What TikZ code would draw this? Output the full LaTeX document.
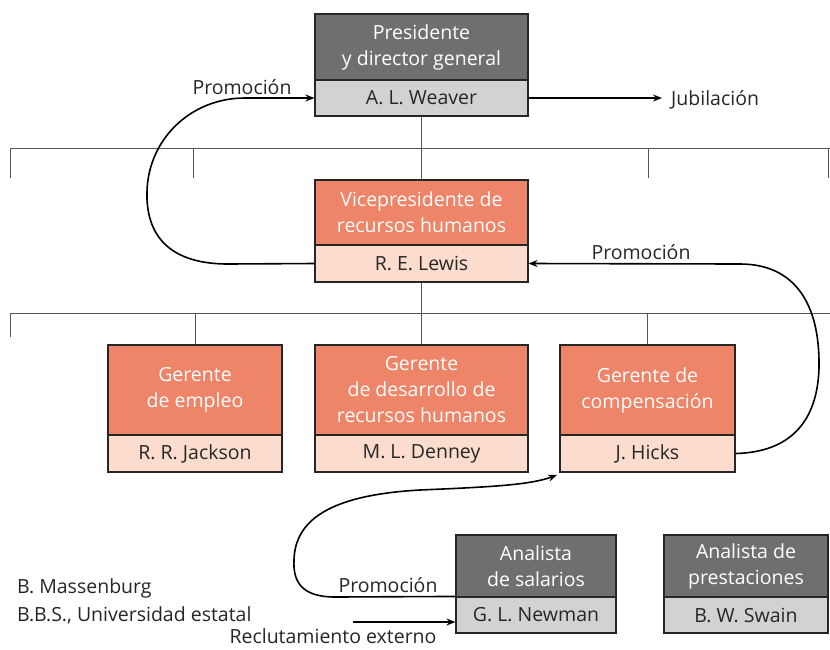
\documentclass[tikz,border=0pt]{standalone}
\usepackage{fontspec}
\setmainfont{Open Sans}
\usetikzlibrary{arrows.meta}
\definecolor{darkbox}{HTML}{6F6F6F}
\definecolor{lightbox}{HTML}{D2D2D2}
\definecolor{salmon}{HTML}{EE8468}
\definecolor{palesalmon}{HTML}{FCDDCD}
\definecolor{orgline}{HTML}{555555}
\begin{document}
\begin{tikzpicture}[x=1pt,y=-1pt,
  every node/.style={font=\fontsize{19.5}{26}\selectfont},
  part/.style={draw=black!85, line width=1.1pt, align=center, inner sep=0pt, minimum width=#1},
  titledark/.style={part=#1, fill=darkbox, text=white},
  titlesal/.style={part=#1, fill=salmon, text=white},
  namegray/.style={part=#1, fill=lightbox, text=black!85},
  namesal/.style={part=#1, fill=palesalmon, text=black!85},
  org/.style={draw=orgline, line width=0.9pt},
  flow/.style={draw=black, line width=1.6pt},
  tip/.style={-{Stealth[length=9pt,width=7pt]}},
  lbl/.style={text=black!85, inner sep=0pt}
]
\useasboundingbox (0,0) rectangle (830,649);

% President
\node[titledark=213, minimum height=66] (pt) at (421.5,47) {Presidente\\y director general};
\node[namegray=213, minimum height=36] (pn) at (421.5,98) {A. L. Weaver};
% VP
\node[titlesal=213, minimum height=65] (vt) at (421.5,212.5) {Vicepresidente de\\recursos humanos};
\node[namesal=213, minimum height=37] (vn) at (421.5,263.5) {R. E. Lewis};
% Gerentes
\node[titlesal=174, minimum height=90] (jt) at (195,390) {Gerente\\de empleo};
\node[namesal=174, minimum height=37] (jn) at (195,453.5) {R. R. Jackson};
\node[titlesal=213, minimum height=90] (dt) at (421.5,390) {Gerente\\de desarrollo de\\recursos humanos};
\node[namesal=213, minimum height=37] (dn) at (421.5,453.5) {M. L. Denney};
\node[titlesal=175, minimum height=90] (ht) at (647.5,390) {Gerente de\\compensación};
\node[namesal=175, minimum height=37] (hn) at (647.5,453.5) {J. Hicks};
% Analistas
\node[titledark=160, minimum height=62] (nt) at (536,566) {Analista\\de salarios};
\node[namegray=160, minimum height=36] (nn) at (536,615) {G. L. Newman};
\node[titledark=164, minimum height=62] (st) at (746,566) {Analista de\\prestaciones};
\node[namegray=164, minimum height=36] (sn) at (746,615) {B. W. Swain};

% org lines level 1
\draw[org] (10,148) -- (830,148);
\draw[org] (pn.south) -- (vt.north);
\draw[org] (10,148) -- (10,178);
\draw[org] (193,148) -- (193,178);
\draw[org] (648,148) -- (648,178);
\draw[org] (828,148) -- (828,178);
% org lines level 2
\draw[org] (10,313) -- (830,313);
\draw[org] (vn.south) -- (dt.north);
\draw[org] (10,313) -- (10,337);
\draw[org] (jt.north) -- (jt.north |- 0,313);
\draw[org] (ht.north) -- (ht.north |- 0,313);

% labels
\node[lbl, anchor=west] (jub) at (671,100) {Jubilación};
\node[lbl] (p1) at (242,87) {Promoción};
\node[lbl] (p2) at (641,252) {Promoción};
\node[lbl] (p3) at (388,585) {Promoción};
\node[lbl, anchor=west] (bm) at (17,588) {B. Massenburg};
\node[lbl, anchor=west] (bbs) at (17,615) {B.B.S., Universidad estatal};
\node[lbl, anchor=base] (rec) at (333,643) {Reclutamiento externo};
\coordinate (recstart) at (353,622);
\coordinate (hickstip) at (557,475);

% flows
\draw[flow, tip] (pn.east) -- (662,98);
\draw[flow, tip] (vn.west) -- (228,264) .. controls (162,264) and (146,228) .. (147,192)
   .. controls (148,140) and (190,98) .. (245,98) -- (pn.west);
\draw[flow, tip] (hn.east) .. controls (800,452) and (820,410) .. (819,360)
   .. controls (818,300) and (792,264) .. (740,264) -- (vn.east);
\draw[flow, tip] (nn.north west) -- (335,597) .. controls (300,597) and (293,580) .. (294,560)
   .. controls (295,520) and (330,495) .. (420,490) .. controls (490,487) and (530,485) .. (hickstip);
\draw[flow, tip] (recstart) -- (recstart -| nn.west);
\end{tikzpicture}
\end{document}
